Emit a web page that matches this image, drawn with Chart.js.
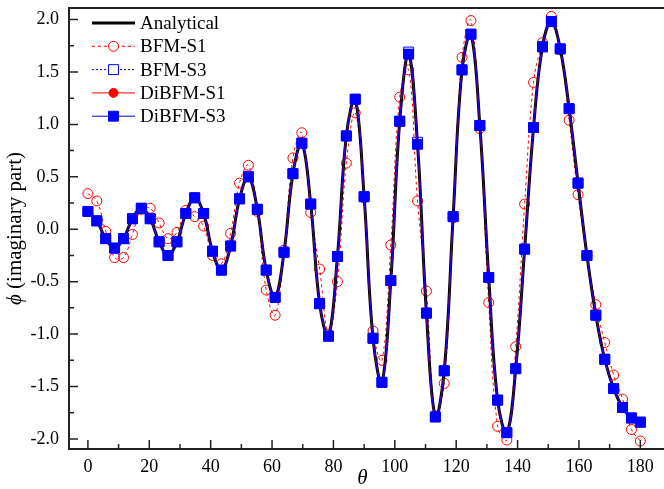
<!DOCTYPE html>
<html>
<head>
<meta charset="utf-8">
<script src="https://cdn.jsdelivr.net/npm/chart.js@4.4.1/dist/chart.umd.min.js"></script>
<style>
  body { margin: 0; background: #fff; }
  canvas { display: block; }
</style>
</head>
<body>
<canvas id="phiChart" width="664" height="489"></canvas>
<script>
// theta sample positions (deg)
const theta = [0, 2.9, 5.8, 8.7, 11.6, 14.5, 17.4, 20.3, 23.2, 26.1, 29.0, 31.9, 34.8, 37.7, 40.6, 43.5,
  46.5, 49.4, 52.3, 55.2, 58.1, 61.0, 63.9, 66.8, 69.7, 72.6, 75.5, 78.4, 81.3, 84.2, 87.1, 90.0,
  92.9, 95.8, 98.7, 101.6, 104.5, 107.4, 110.3, 113.2, 116.1, 119.0, 121.9, 124.8, 127.7, 130.6,
  133.5, 136.5, 139.4, 142.3, 145.2, 148.1, 151.0, 153.9, 156.8, 159.7, 162.6, 165.5, 168.4,
  171.3, 174.2, 177.1, 180.0];

const analytical = [0.17, 0.08, -0.09, -0.18, -0.09, 0.10, 0.20, 0.10, -0.12, -0.25, -0.12, 0.15, 0.30, 0.15, -0.21, -0.39,
  -0.16, 0.29, 0.50, 0.19, -0.39, -0.65, -0.22, 0.53, 0.82, 0.24, -0.71, -1.02, -0.26, 0.89, 1.24, 0.31,
  -1.04, -1.46, -0.49, 1.03, 1.67, 0.81, -0.80, -1.79, -1.35, 0.12, 1.52, 1.86, 0.99, -0.46,
  -1.63, -1.94, -1.33, -0.19, 0.97, 1.74, 1.98, 1.72, 1.15, 0.44, -0.25, -0.82, -1.24,
  -1.52, -1.70, -1.80, -1.84];

const bfmS1 = [0.34, 0.27, -0.02, -0.27, -0.27, -0.05, 0.19, 0.20, 0.06, -0.09, -0.03, 0.18, 0.12, 0.03, -0.25, -0.33,
  -0.04, 0.44, 0.61, 0.17, -0.58, -0.82, -0.20, 0.68, 0.92, 0.16, -0.38, -1.00, -0.50, 0.63, 1.11, 0.30,
  -0.97, -1.25, -0.15, 1.26, 1.52, 0.27, -0.59, -1.78, -1.47, 0.11, 1.64, 1.99, 0.96, -0.70,
  -1.88, -2.01, -1.12, 0.24, 1.40, 1.78, 2.03, 1.71, 1.04, 0.33, -0.25, -0.72, -1.08,
  -1.39, -1.62, -1.91, -2.02];

const bfmS3 = [0.17, 0.08, -0.09, -0.18, -0.09, 0.10, 0.20, 0.10, -0.12, -0.25, -0.12, 0.15, 0.30, 0.15, -0.21, -0.39,
  -0.16, 0.29, 0.50, 0.19, -0.39, -0.65, -0.22, 0.53, 0.82, 0.24, -0.71, -1.02, -0.26, 0.89, 1.24, 0.31,
  -1.04, -1.46, -0.49, 1.03, 1.69, 0.83, -0.80, -1.79, -1.35, 0.12, 1.52, 1.86, 0.99, -0.46,
  -1.63, -1.94, -1.33, -0.19, 0.97, 1.74, 1.98, 1.72, 1.15, 0.44, -0.25, -0.82, -1.24,
  -1.52, -1.70, -1.80, -1.84];

const dibfmS1 = [0.17, 0.08, -0.09, -0.18, -0.09, 0.10, 0.20, 0.10, -0.12, -0.25, -0.12, 0.15, 0.30, 0.15, -0.21, -0.39,
  -0.16, 0.29, 0.50, 0.19, -0.39, -0.65, -0.22, 0.53, 0.82, 0.24, -0.71, -1.02, -0.26, 0.89, 1.24, 0.31,
  -1.04, -1.46, -0.49, 1.03, 1.67, 0.81, -0.80, -1.79, -1.35, 0.12, 1.52, 1.86, 0.99, -0.46,
  -1.63, -1.94, -1.33, -0.19, 0.97, 1.74, 1.98, 1.72, 1.15, 0.44, -0.25, -0.82, -1.24,
  -1.52, -1.70, -1.80, -1.84];

const dibfmS3 = [0.17, 0.08, -0.09, -0.18, -0.09, 0.10, 0.20, 0.10, -0.12, -0.25, -0.12, 0.15, 0.30, 0.15, -0.21, -0.39,
  -0.16, 0.29, 0.50, 0.19, -0.39, -0.65, -0.22, 0.53, 0.82, 0.24, -0.71, -1.02, -0.26, 0.89, 1.24, 0.31,
  -1.04, -1.46, -0.49, 1.03, 1.67, 0.81, -0.80, -1.79, -1.35, 0.12, 1.52, 1.86, 0.99, -0.46,
  -1.63, -1.94, -1.33, -0.19, 0.97, 1.74, 1.98, 1.72, 1.15, 0.44, -0.25, -0.82, -1.24,
  -1.52, -1.70, -1.80, -1.84];

const xMajor = [0, 20, 40, 60, 80, 100, 120, 140, 160, 180];
const xMinor = [10, 30, 50, 70, 90, 110, 130, 150, 170];
const yMajor = [-2.0, -1.5, -1.0, -0.5, 0.0, 0.5, 1.0, 1.5, 2.0];
const yMinor = [-1.75, -1.25, -0.75, -0.25, 0.25, 0.75, 1.25, 1.75];

const pts = arr => arr.map((v, i) => ({ x: theta[i], y: v }));

const serif = '"Liberation Serif", "Times New Roman", serif';
Chart.defaults.font.family = serif;
Chart.defaults.color = '#000';

// ticks pointing into the plot, top frame line, y title with italic phi
const frame = {
  id: 'frame',
  afterDraw(chart) {
    const ctx = chart.ctx;
    const a = chart.chartArea;
    const xs = chart.scales.x, ys = chart.scales.y;
    ctx.save();
    ctx.strokeStyle = '#222';
    ctx.lineWidth = 2;
    ctx.beginPath();
    ctx.moveTo(a.left - 1, a.top);
    ctx.lineTo(chart.width, a.top);
    ctx.moveTo(a.right, a.bottom);
    ctx.lineTo(chart.width, a.bottom);
    ctx.stroke();
    ctx.lineWidth = 1.5;
    ctx.beginPath();
    xMajor.forEach(v => { const px = xs.getPixelForValue(v); ctx.moveTo(px, a.bottom); ctx.lineTo(px, a.bottom - 9); });
    xMinor.forEach(v => { const px = xs.getPixelForValue(v); ctx.moveTo(px, a.bottom); ctx.lineTo(px, a.bottom - 5); });
    yMajor.forEach(v => { const py = ys.getPixelForValue(v); ctx.moveTo(a.left, py); ctx.lineTo(a.left + 9, py); });
    yMinor.forEach(v => { const py = ys.getPixelForValue(v); ctx.moveTo(a.left, py); ctx.lineTo(a.left + 5, py); });
    ctx.stroke();

    // y axis title
    const phi = 'ϕ', rest = ' (imaginary part)';
    ctx.translate(15, (a.top + a.bottom) / 2);
    ctx.rotate(-Math.PI / 2);
    ctx.textBaseline = 'middle';
    ctx.fillStyle = '#000';
    ctx.font = 'italic 21px ' + serif;
    const w1 = ctx.measureText(phi).width;
    ctx.font = '21px ' + serif;
    const w2 = ctx.measureText(rest).width;
    const sx = -(w1 + w2) / 2;
    ctx.font = 'italic 21px ' + serif;
    ctx.fillText(phi, sx, 0);
    ctx.font = '21px ' + serif;
    ctx.fillText(rest, sx + w1, 0);
    ctx.restore();
  }
};

// legend drawn inside the plot, line sample with marker
const innerLegend = {
  id: 'innerLegend',
  afterDraw(chart) {
    const ctx = chart.ctx;
    const x0 = 92, x1 = 135, tx = 140;
    let y = 23;
    ctx.save();
    chart.data.datasets.forEach(ds => {
      ctx.strokeStyle = ds.borderColor;
      ctx.lineWidth = ds.borderWidth;
      ctx.setLineDash(ds.borderDash || []);
      ctx.beginPath();
      ctx.moveTo(x0, y);
      ctx.lineTo(x1, y);
      ctx.stroke();
      ctx.setLineDash([]);
      const cx = (x0 + x1) / 2;
      if (ds.pointRadius > 0) {
        ctx.lineWidth = 1;
        ctx.strokeStyle = ds.pointBorderColor;
        ctx.fillStyle = ds.legendFill;
        ctx.beginPath();
        if (ds.pointStyle === 'rect') {
          const h = ds.pointRadius * Math.SQRT1_2;
          ctx.rect(cx - h, y - h, 2 * h, 2 * h);
        } else {
          ctx.arc(cx, y, ds.pointRadius, 0, Math.PI * 2);
        }
        ctx.fill();
        ctx.stroke();
      }
      ctx.fillStyle = '#000';
      ctx.font = '19px ' + serif;
      ctx.textBaseline = 'middle';
      ctx.fillText(ds.label, tx, y + 1);
      y += 23.3;
    });
    ctx.restore();
  }
};

const noPad = s => { s.paddingTop = 0; s.paddingBottom = 0; s.paddingLeft = 0; s.paddingRight = 0; };

const ctx1 = document.getElementById('phiChart').getContext('2d');
const phiChart = new Chart(ctx1, {
  type: 'line',
  data: {
    datasets: [{
      label: 'Analytical',
      data: pts(analytical),
      borderColor: '#000',
      borderWidth: 3,
      pointRadius: 0,
      tension: 0.4,
      order: 4
    }, {
      label: 'BFM-S1',
      data: pts(bfmS1),
      borderColor: '#ff0000',
      borderWidth: 1,
      borderDash: [3, 3],
      pointStyle: 'circle',
      pointRadius: 5,
      pointBorderWidth: 1,
      pointBorderColor: '#ff0000',
      pointBackgroundColor: 'rgba(255,255,255,0)',
      legendFill: '#fff',
      tension: 0.4,
      order: 5
    }, {
      label: 'BFM-S3',
      data: pts(bfmS3),
      borderColor: '#0000ff',
      borderWidth: 1,
      borderDash: [2, 2],
      pointStyle: 'rect',
      pointRadius: 7,
      pointBorderWidth: 1,
      pointBorderColor: '#0000ff',
      pointBackgroundColor: 'rgba(255,255,255,0)',
      legendFill: '#fff',
      tension: 0.4,
      order: 3
    }, {
      label: 'DiBFM-S1',
      data: pts(dibfmS1),
      borderColor: '#ff0000',
      borderWidth: 1,
      pointStyle: 'circle',
      pointRadius: 4.5,
      pointBorderWidth: 1,
      pointBorderColor: '#ff0000',
      pointBackgroundColor: '#ff0000',
      legendFill: '#ff0000',
      tension: 0.4,
      order: 2
    }, {
      label: 'DiBFM-S3',
      data: pts(dibfmS3),
      borderColor: '#0000ff',
      borderWidth: 1,
      pointStyle: 'rect',
      pointRadius: 7,
      pointBorderWidth: 1,
      pointBorderColor: '#0000ff',
      pointBackgroundColor: '#0000ff',
      legendFill: '#0000ff',
      tension: 0.4,
      order: 1
    }]
  },
  options: {
    responsive: false,
    animation: false,
    devicePixelRatio: 1,
    layout: { padding: { top: 6, right: 0, bottom: 0, left: 0 } },
    plugins: {
      legend: { display: false },
      tooltip: { enabled: false }
    },
    scales: {
      x: {
        type: 'linear',
        min: -6.16,
        max: 185.1,
        afterFit: s => { s.height = 40; noPad(s); },
        grid: { display: false, drawTicks: false },
        border: { display: true, color: '#222', width: 2 },
        ticks: {
          stepSize: 20,
          includeBounds: false,
          padding: 7,
          maxRotation: 0,
          font: { size: 18 },
          callback: v => (xMajor.includes(v) ? String(v) : '')
        },
        title: {
          display: true,
          text: 'θ',
          font: { size: 21, style: 'italic', lineHeight: 1 },
          padding: { top: 0, bottom: 0 }
        }
      },
      y: {
        min: -2.096,
        max: 2.11,
        afterFit: s => { s.width = 69; noPad(s); },
        grid: { display: false, drawTicks: false },
        border: { display: true, color: '#222', width: 2 },
        ticks: {
          stepSize: 0.5,
          includeBounds: false,
          padding: 10,
          font: { size: 18 },
          callback: v => (Math.abs(v * 2 - Math.round(v * 2)) < 1e-6 ? v.toFixed(1) : '')
        }
      }
    }
  },
  plugins: [frame, innerLegend]
});
</script>
</body>
</html>
